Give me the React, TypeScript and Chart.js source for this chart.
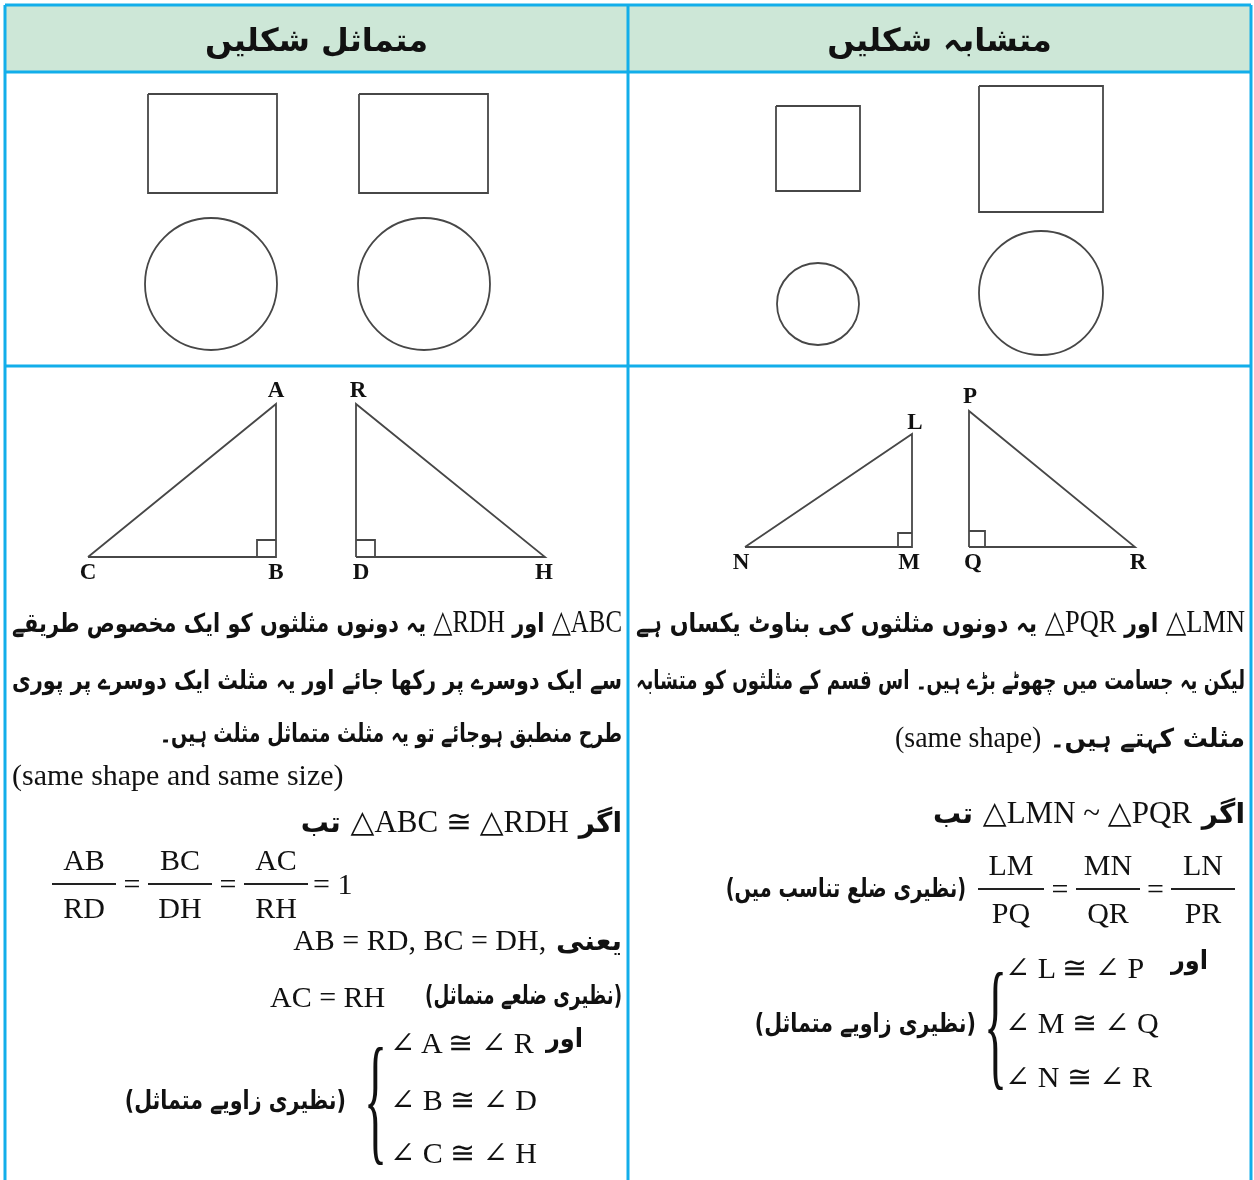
import React, { useEffect, useLayoutEffect, useRef } from "react";
import { Chart, registerables } from "chart.js";

Chart.register(...registerables);

// ---------- data (page coordinates, y downward) ----------
const headerBand = [{ x: 5, y: 72 }, { x: 1251, y: 72 }];
const gridTop = [{ x: 5, y: 5 }, { x: 1251, y: 5 }];
const gridHeader = [{ x: 5, y: 72 }, { x: 1251, y: 72 }];
const gridRow = [{ x: 5, y: 366 }, { x: 1251, y: 366 }];
const gridLeft = [{ x: 5, y: 5 }, { x: 5, y: 1180 }];
const gridMid = [{ x: 628, y: 5 }, { x: 628, y: 1180 }];
const gridRight = [{ x: 1251, y: 5 }, { x: 1251, y: 1180 }];

const rectL1 = [{ x: 148, y: 94 }, { x: 277, y: 94 }, { x: 277, y: 193 }, { x: 148, y: 193 }, { x: 148, y: 94 }];
const rectL2 = [{ x: 359, y: 94 }, { x: 488, y: 94 }, { x: 488, y: 193 }, { x: 359, y: 193 }, { x: 359, y: 94 }];
const rectR1 = [{ x: 776, y: 106 }, { x: 860, y: 106 }, { x: 860, y: 191 }, { x: 776, y: 191 }, { x: 776, y: 106 }];
const rectR2 = [{ x: 979, y: 86 }, { x: 1103, y: 86 }, { x: 1103, y: 212 }, { x: 979, y: 212 }, { x: 979, y: 86 }];
const circles = [
  { x: 211, y: 284, r: 66 },
  { x: 424, y: 284, r: 66 },
  { x: 818, y: 304, r: 41 },
  { x: 1041, y: 293, r: 62 },
];

const triABC = [{ x: 88, y: 557 }, { x: 276, y: 404 }, { x: 276, y: 557 }, { x: 88, y: 557 }];
const sqB = [{ x: 257, y: 557 }, { x: 257, y: 540 }, { x: 276, y: 540 }];
const triRDH = [{ x: 356, y: 557 }, { x: 356, y: 404 }, { x: 545, y: 557 }, { x: 356, y: 557 }];
const sqD = [{ x: 356, y: 540 }, { x: 375, y: 540 }, { x: 375, y: 557 }];
const triLMN = [{ x: 745, y: 547 }, { x: 912, y: 434 }, { x: 912, y: 547 }, { x: 745, y: 547 }];
const sqM = [{ x: 898, y: 547 }, { x: 898, y: 533 }, { x: 912, y: 533 }];
const triPQR = [{ x: 969, y: 547 }, { x: 969, y: 411 }, { x: 1135, y: 547 }, { x: 969, y: 547 }];
const sqQ = [{ x: 969, y: 531 }, { x: 985, y: 531 }, { x: 985, y: 547 }];

const vertexLabels = [
  { t: "A", x: 276, y: 390 }, { t: "R", x: 358, y: 390 },
  { t: "C", x: 88, y: 572 }, { t: "B", x: 276, y: 572 },
  { t: "D", x: 361, y: 572 }, { t: "H", x: 544, y: 572 },
  { t: "L", x: 915, y: 422 }, { t: "P", x: 970, y: 396 },
  { t: "N", x: 741, y: 562 }, { t: "M", x: 909, y: 562 },
  { t: "Q", x: 973, y: 562 }, { t: "R", x: 1138, y: 562 },
];

const headers = ["متماثل شکلیں", "متشابہ شکلیں"];

// ---------- styles ----------
const BLUE = "#12aeea";
const HEADER_BG = "#cde7d7";
const INK = "#474747";
const URDU = "'DejaVu Sans', sans-serif";
const SERIF = "'Liberation Serif', 'DejaVu Serif', serif";
const MIN_FS = 26;

type TP = {
  x: number; y: number; w: number; h?: number; size?: number; font?: string;
  align?: "left" | "right" | "center"; dir?: "rtl" | "ltr"; bold?: boolean;
  justify?: boolean; fit?: boolean; children?: React.ReactNode;
};
const Txt = ({ x, y, w, h = 50, size = 28, font = URDU, align = "right", dir = "rtl", bold, justify = false, fit = false, children }: TP) => {
  const isBold = bold === undefined ? font === URDU : bold;
  return (
    <div
      className={fit ? "fit" : undefined}
      dir={dir}
      style={{
        position: "absolute", left: x, top: y - h / 2, width: w, height: h, lineHeight: h + "px",
        fontSize: size, fontFamily: font, fontWeight: isBold ? 700 : 400,
        textAlign: justify ? "justify" : align, textAlignLast: justify ? "justify" : align,
        whiteSpace: "nowrap", color: "#111", overflow: "visible",
        transformOrigin: dir === "rtl" ? "right center" : "left center",
      } as React.CSSProperties}
    >
      {children}
    </div>
  );
};

const M = ({ children, size = 31 }: { children: React.ReactNode; size?: number }) => (
  <span dir="ltr" style={{ fontFamily: SERIF, fontSize: size, fontWeight: 400 }}>{children}</span>
);

const Frac = ({ cx, top, w, num, den, size = 30 }: { cx: number; top: number; w: number; num: string; den: string; size?: number }) => (
  <div style={{ position: "absolute", left: cx - w / 2, top, width: w, fontFamily: SERIF, fontSize: size, color: "#111", textAlign: "center" }}>
    <div style={{ height: 45, lineHeight: "44px", borderBottom: "2px solid #222" }}>{num}</div>
    <div style={{ height: 45, lineHeight: "46px" }}>{den}</div>
  </div>
);

const Brace = ({ x, top, h }: { x: number; top: number; h: number }) => (
  <div style={{ position: "absolute", left: x, top, height: h, width: 24, overflow: "visible" }}>
    <div style={{ fontFamily: SERIF, fontSize: 48, lineHeight: "48px", transformOrigin: "0 0", transform: `scaleY(${h / 48})`, color: "#111" }}>{"{"}</div>
  </div>
);

function line(data: { x: number; y: number }[], color = INK, width = 1.8, order = 1) {
  return { type: "line" as const, data, borderColor: color, borderWidth: width, pointRadius: 0, fill: false, tension: 0, order };
}

export default function App() {
  const canvasRef = useRef<HTMLCanvasElement>(null);
  const rootRef = useRef<HTMLDivElement>(null);

  useEffect(() => {
    const canvas = canvasRef.current!;
    const chart = new Chart(canvas, {
      type: "scatter",
      data: {
        datasets: [
          { type: "line", data: headerBand, borderWidth: 0, pointRadius: 0, backgroundColor: HEADER_BG, fill: { value: 5 }, order: 10 } as any,
          line(gridTop, BLUE, 3, 0), line(gridHeader, BLUE, 3, 0), line(gridRow, BLUE, 3, 0),
          line(gridLeft, BLUE, 3, 0), line(gridMid, BLUE, 3, 0), line(gridRight, BLUE, 3, 0),
          line(rectL1), line(rectL2), line(rectR1), line(rectR2),
          { type: "bubble", data: circles, borderColor: INK, borderWidth: 1.8, backgroundColor: "rgba(0,0,0,0)", order: 1 } as any,
          line(triABC), line(sqB), line(triRDH), line(sqD),
          line(triLMN), line(sqM), line(triPQR), line(sqQ),
        ],
      },
      options: {
        animation: false,
        responsive: false,
        devicePixelRatio: 1,
        events: [],
        layout: { padding: 0, autoPadding: false },
        plugins: { legend: { display: false }, tooltip: { enabled: false } },
        scales: {
          x: { type: "linear", min: 0, max: 1254, display: false },
          y: { type: "linear", min: 0, max: 1180, reverse: true, display: false },
        },
      } as any,
    });
    return () => chart.destroy();
  }, []);

  useLayoutEffect(() => {
    const fitAll = () => {
      const els = rootRef.current?.querySelectorAll<HTMLElement>(".fit") || [];
      els.forEach((el) => {
        el.style.transform = "none";
        if (!el.dataset.fs) el.dataset.fs = getComputedStyle(el).fontSize;
        let fs = parseFloat(el.dataset.fs);
        el.style.fontSize = fs + "px";
        let guard = 0;
        while (el.scrollWidth > el.clientWidth + 1 && fs > MIN_FS && guard < 40) {
          fs -= 0.5; guard++;
          el.style.fontSize = fs + "px";
        }
        const sw = el.scrollWidth, cw = el.clientWidth;
        if (sw > cw + 1) el.style.transform = `scaleX(${cw / sw})`;
      });
    };
    fitAll();
    (document as any).fonts?.ready?.then(fitAll);
  }, []);

  return (
    <div ref={rootRef} style={{ position: "absolute", left: 0, top: 0, width: 1254, height: 1180, background: "#fff", overflow: "hidden" }}>
      <canvas ref={canvasRef} width={1254} height={1180} style={{ position: "absolute", left: 0, top: 0, width: 1254, height: 1180 }} />

      {/* headers */}
      <Txt x={5} y={40} w={623} h={60} size={32} align="center">{headers[0]}</Txt>
      <Txt x={628} y={40} w={623} h={60} size={32} align="center">{headers[1]}</Txt>

      {/* vertex labels */}
      {vertexLabels.map((v, i) => (
        <div key={i} style={{ position: "absolute", left: v.x - 15, top: v.y - 14, width: 30, height: 28, lineHeight: "28px", textAlign: "center", fontFamily: SERIF, fontWeight: 700, fontSize: 23, color: "#111" }}>{v.t}</div>
      ))}

      {/* left column text */}
      <Txt x={12} y={622} w={610} justify fit><M>△ABC</M>  اور  <M>△RDH</M>  یہ دونوں مثلثوں کو ایک مخصوص طریقے</Txt>
      <Txt x={12} y={680} w={610} justify fit>سے ایک دوسرے پر رکھا جائے اور یہ مثلث ایک دوسرے پر پوری</Txt>
      <Txt x={160} y={733} w={462} fit>طرح منطبق ہوجائے تو یہ مثلث متماثل مثلث ہیں۔</Txt>
      <Txt x={12} y={775} w={500} dir="ltr" align="left" font={SERIF} size={30}>(same shape and same size)</Txt>
      <Txt x={300} y={822} w={322} fit>اگر <M>△ABC ≅ △RDH</M> تب</Txt>

      <Frac cx={84} top={838} w={64} num="AB" den="RD" />
      <Txt x={116} y={884} w={32} dir="ltr" align="center" font={SERIF} size={30}>=</Txt>
      <Frac cx={180} top={838} w={64} num="BC" den="DH" />
      <Txt x={212} y={884} w={32} dir="ltr" align="center" font={SERIF} size={30}>=</Txt>
      <Frac cx={276} top={838} w={64} num="AC" den="RH" />
      <Txt x={313} y={884} w={60} dir="ltr" align="left" font={SERIF} size={30}>= 1</Txt>

      <Txt x={280} y={940} w={342} fit>یعنی <M size={30}>AB = RD, BC = DH,</M></Txt>
      <Txt x={425} y={995} w={197} fit>(نظیری ضلعے متماثل)</Txt>
      <Txt x={270} y={997} w={140} dir="ltr" align="left" font={SERIF} size={30}>AC = RH</Txt>

      <Brace x={364} top={1028} h={142} />
      <Txt x={546} y={1038} w={37} fit>اور</Txt>
      <Txt x={390} y={1043} w={160} dir="ltr" align="left" font={SERIF} size={30}>∠ A ≅ ∠ R</Txt>
      <Txt x={390} y={1100} w={160} dir="ltr" align="left" font={SERIF} size={30}>∠ B ≅ ∠ D</Txt>
      <Txt x={390} y={1153} w={160} dir="ltr" align="left" font={SERIF} size={30}>∠ C ≅ ∠ H</Txt>
      <Txt x={125} y={1100} w={221} fit>(نظیری زاویے متماثل)</Txt>

      {/* right column text */}
      <Txt x={636} y={622} w={609} justify fit><M>△LMN</M>  اور  <M>△PQR</M>  یہ دونوں مثلثوں کی بناوٹ یکساں ہے</Txt>
      <Txt x={636} y={680} w={609} justify fit>لیکن یہ جسامت میں چھوٹے بڑے ہیں۔ اس قسم کے مثلثوں کو متشابہ</Txt>
      <Txt x={895} y={737} w={350} fit>مثلث کہتے ہیں۔ <M size={29}>(same shape)</M></Txt>
      <Txt x={925} y={813} w={320} fit>اگر <M>△LMN ~ △PQR</M> تب</Txt>

      <Txt x={726} y={888} w={240} fit>(نظیری ضلع تناسب میں)</Txt>
      <Frac cx={1011} top={843} w={66} num="LM" den="PQ" />
      <Txt x={1044} y={889} w={32} dir="ltr" align="center" font={SERIF} size={30}>=</Txt>
      <Frac cx={1108} top={843} w={64} num="MN" den="QR" />
      <Txt x={1140} y={889} w={31} dir="ltr" align="center" font={SERIF} size={30}>=</Txt>
      <Frac cx={1203} top={843} w={64} num="LN" den="PR" />

      <Brace x={984} top={953} h={142} />
      <Txt x={1005} y={968} w={160} dir="ltr" align="left" font={SERIF} size={30}>∠ L ≅ ∠ P</Txt>
      <Txt x={1171} y={960} w={37} fit>اور</Txt>
      <Txt x={1005} y={1023} w={160} dir="ltr" align="left" font={SERIF} size={30}>∠ M ≅ ∠ Q</Txt>
      <Txt x={1005} y={1077} w={160} dir="ltr" align="left" font={SERIF} size={30}>∠ N ≅ ∠ R</Txt>
      <Txt x={755} y={1023} w={221} fit>(نظیری زاویے متماثل)</Txt>
    </div>
  );
}
